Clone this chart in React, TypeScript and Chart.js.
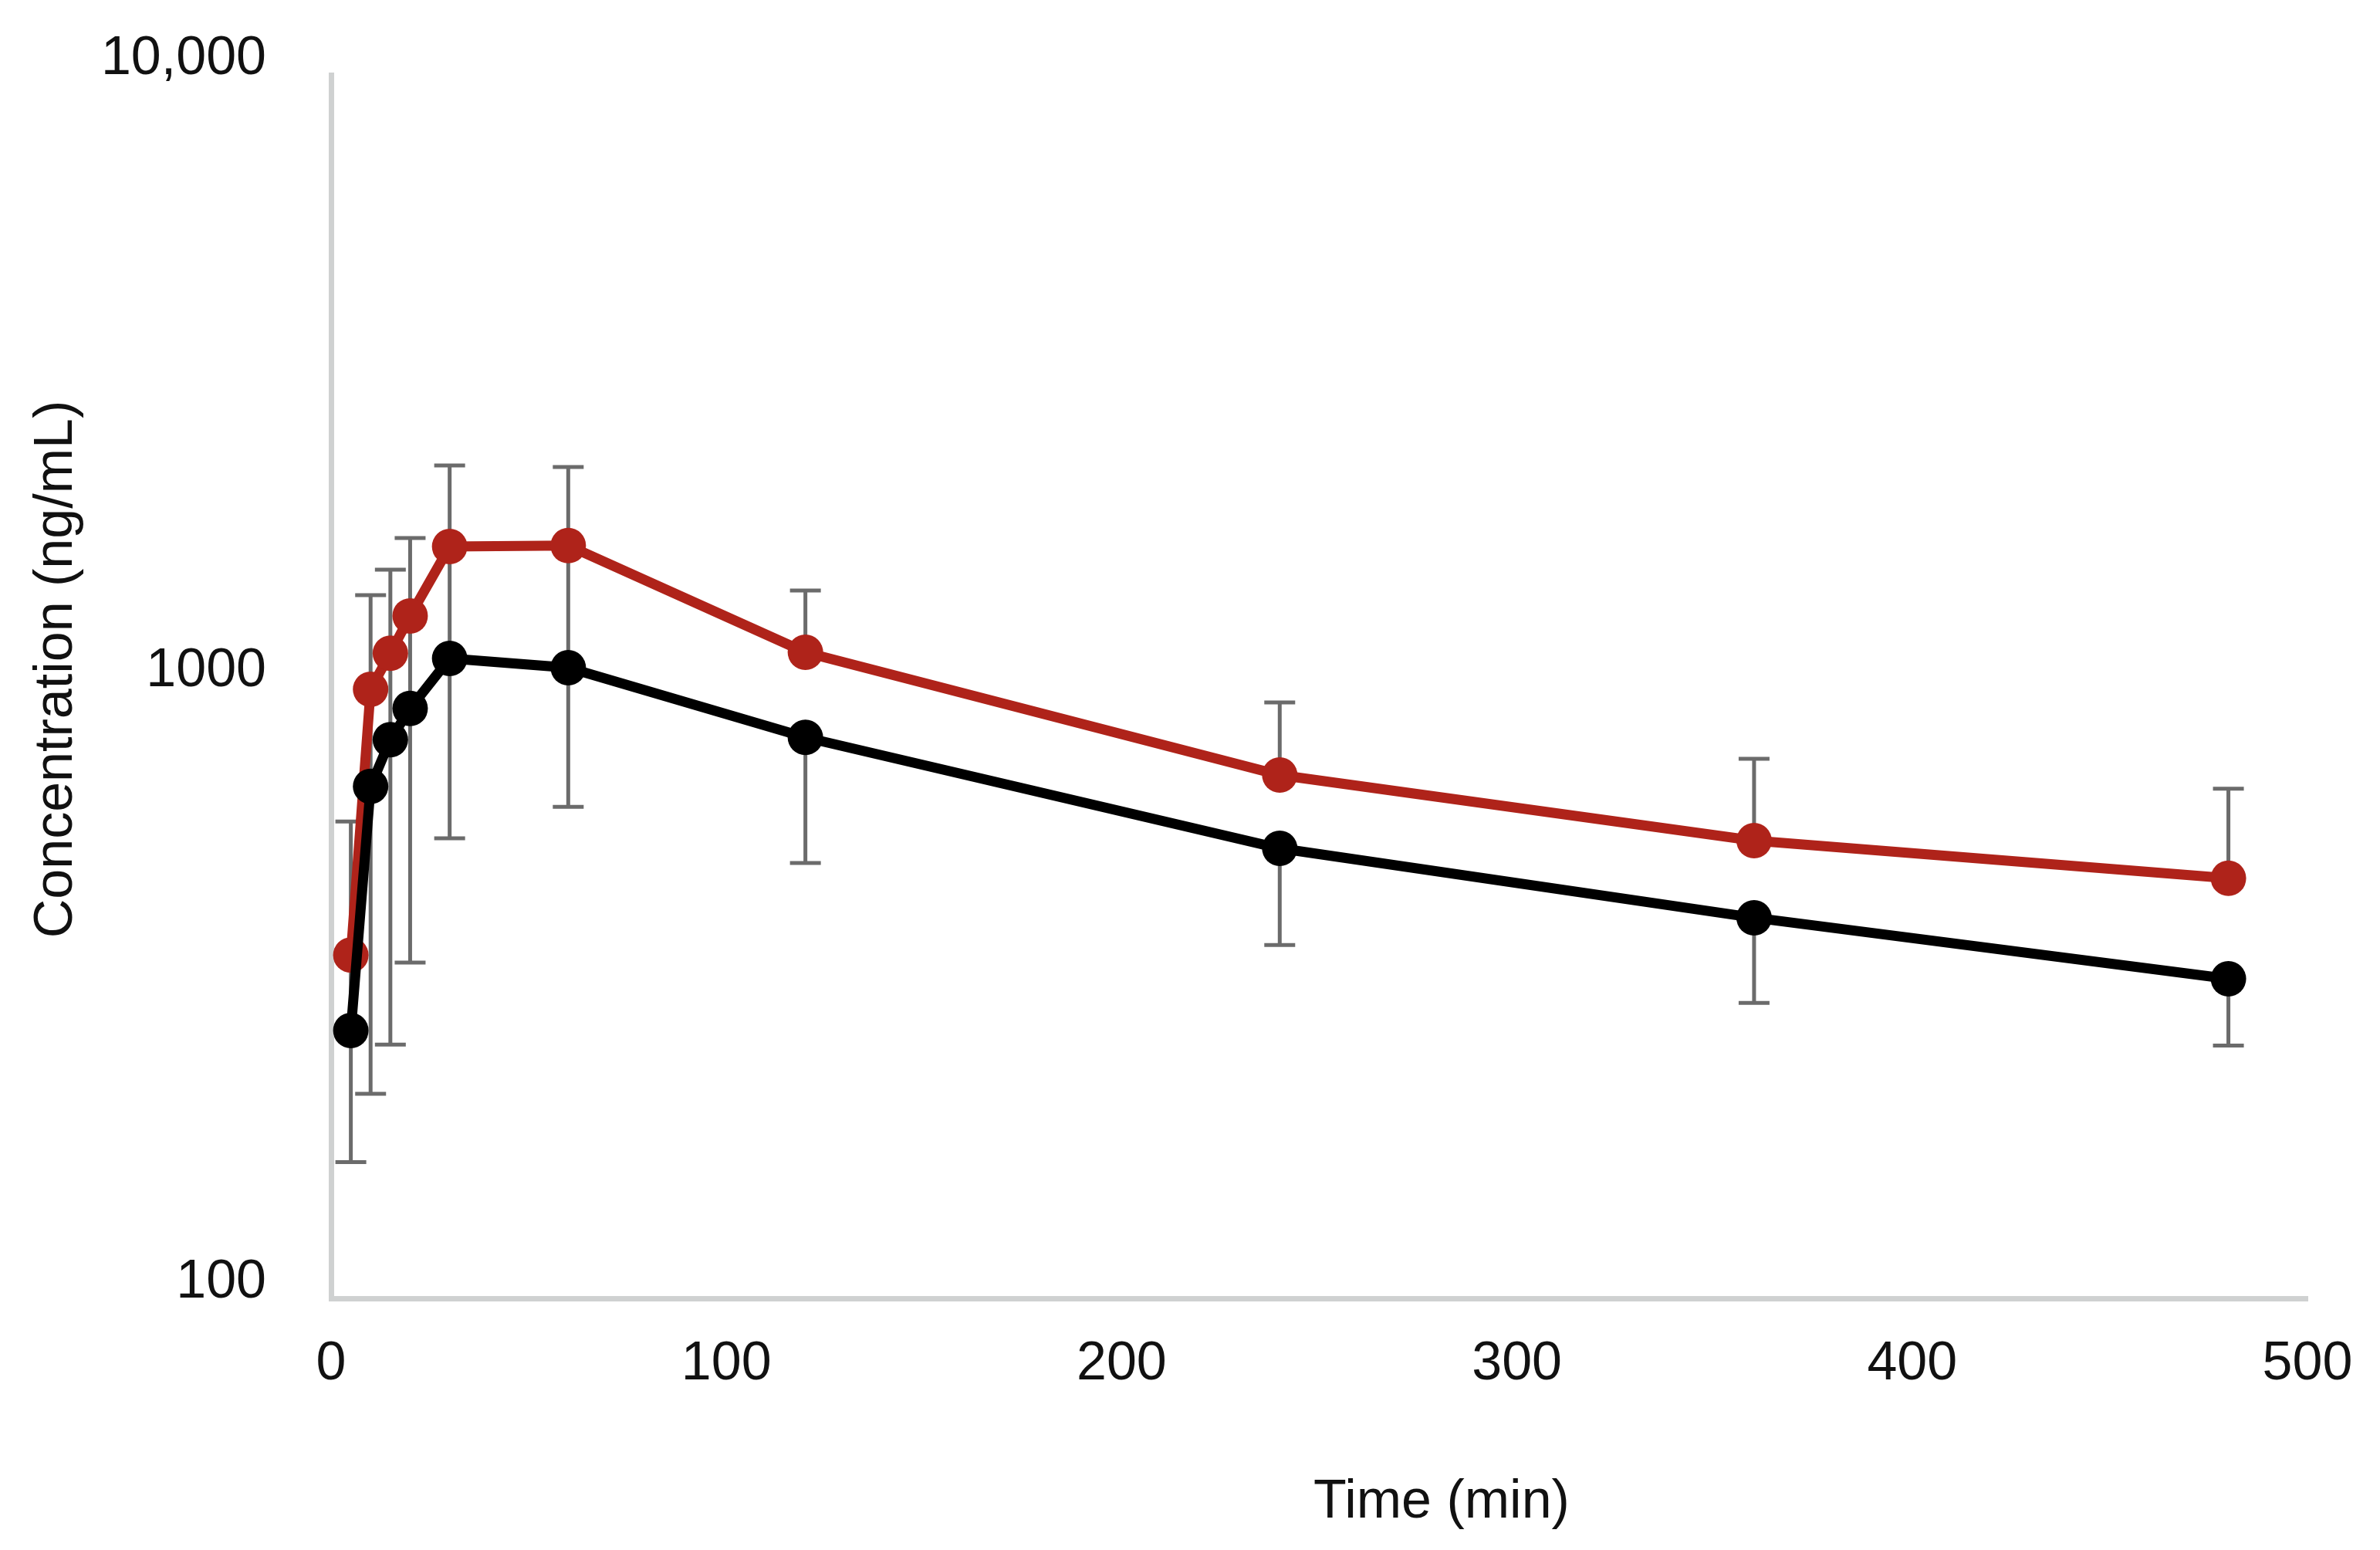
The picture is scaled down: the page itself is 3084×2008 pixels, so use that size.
import React, { useEffect, useRef } from "react";
import { Chart, registerables } from "chart.js";

Chart.register(...registerables);

// ---- data ----
const timePoints = [5, 10, 15, 20, 30, 60, 120, 240, 360, 480];

const redMean = [364, 990, 1134, 1305, 1694, 1700, 1138, 717, 560, 486];
const redUpper = [602, 1411, 1553, 1750, 2299, 2286, 1436, 942, 762, 681];
// lower bars of the red series (ending hidden behind the black markers)
const redLower = [274, 687, 819, 921, 1112, 1074, null, null, null, null];

const blackMean = [274, 687, 819, 921, 1112, 1074, 826, 544, 419, 333];
const blackLower = [167, 216, 260, 354, 565, 636, 515, 378, 304, 259];

const xTickValues = [0, 100, 200, 300, 400, 500];
const yTickValues = [100, 1000, 10000];
const yTickLabels = ["100", "1000", "10,000"];

const xTitle = "Time (min)";
const yTitle = "Concentration (ng/mL)";

// ---- styles ----
const FONT = '"Liberation Sans", Arial, Helvetica, sans-serif';
const RED = "#AF231A";
const BLACK = "#000000";
const ERR = "#6b6b6b";
const AXIS = "#cfd1d1";
const TEXT = "#111111";

const errorBarPlugin = {
  id: "errorBars",
  beforeDatasetsDraw(chart: any) {
    const { ctx, scales } = chart;
    const x = scales.x;
    const y = scales.y;
    const capHalf = 20;
    ctx.save();
    ctx.strokeStyle = ERR;
    ctx.lineWidth = 5;
    ctx.lineCap = "butt";
    const bar = (px: number, v0: number, v1: number) => {
      const p0 = y.getPixelForValue(v0);
      const p1 = y.getPixelForValue(v1);
      ctx.beginPath();
      ctx.moveTo(px, p0);
      ctx.lineTo(px, p1);
      ctx.moveTo(px - capHalf, p1);
      ctx.lineTo(px + capHalf, p1);
      ctx.stroke();
    };
    timePoints.forEach((t, i) => {
      const px = x.getPixelForValue(t);
      bar(px, redMean[i], redUpper[i]);
      const rl = redLower[i];
      if (rl !== null) bar(px, redMean[i], rl);
      bar(px, blackMean[i], blackLower[i]);
    });
    ctx.restore();
  },
};

const axisTitlePlugin = {
  id: "axisTitles",
  afterDraw(chart: any) {
    const { ctx } = chart;
    ctx.save();
    ctx.fillStyle = TEXT;
    ctx.font = `70px ${FONT}`;
    ctx.textAlign = "center";
    ctx.textBaseline = "middle";
    ctx.fillText(xTitle, 1868, 1947);
    ctx.translate(74, 867);
    ctx.rotate(-Math.PI / 2);
    ctx.fillText(yTitle, 0, 0);
    ctx.restore();
  },
};

export default function App() {
  const ref = useRef<HTMLCanvasElement>(null);

  useEffect(() => {
    document.body.style.margin = "0";
    document.body.style.overflow = "hidden";
    const canvas = ref.current;
    if (!canvas) return;

    const chart = new Chart(canvas, {
      type: "line",
      data: {
        datasets: [
          {
            label: "Black",
            data: timePoints.map((t, i) => ({ x: t, y: blackMean[i] })),
            borderColor: BLACK,
            backgroundColor: BLACK,
            borderWidth: 13,
            pointRadius: 23,
            pointBorderWidth: 0,
            pointBackgroundColor: BLACK,
            tension: 0,
          },
          {
            label: "Red",
            data: timePoints.map((t, i) => ({ x: t, y: redMean[i] })),
            borderColor: RED,
            backgroundColor: RED,
            borderWidth: 13,
            pointRadius: 23,
            pointBorderWidth: 0,
            pointBackgroundColor: RED,
            tension: 0,
          },
        ],
      },
      options: {
        animation: false,
        responsive: true,
        maintainAspectRatio: false,
        layout: { padding: { left: 0, top: 97, right: 94, bottom: 0 } },
        plugins: {
          legend: { display: false },
          tooltip: { enabled: false },
          title: { display: false },
        },
        scales: {
          x: {
            type: "linear",
            min: 0,
            max: 500,
            afterBuildTicks: (s: any) => {
              s.ticks = xTickValues.map((v) => ({ value: v }));
            },
            afterFit: (s: any) => {
              s.height = 326;
              s.paddingLeft = 0;
              s.paddingRight = 0;
            },
            grid: { display: false, drawTicks: false },
            border: { display: true, color: AXIS, width: 7 },
            ticks: {
              padding: 44,
              color: TEXT,
              font: { family: FONT, size: 70 },
              maxRotation: 0,
              autoSkip: false,
              callback: (v: any) => String(v),
            },
          },
          y: {
            type: "logarithmic",
            min: 100,
            max: 10000,
            afterBuildTicks: (s: any) => {
              s.ticks = yTickValues.map((v) => ({ value: v }));
            },
            afterFit: (s: any) => {
              s.width = 429;
              s.paddingTop = 0;
              s.paddingBottom = 0;
            },
            grid: { display: false, drawTicks: false },
            border: { display: true, color: AXIS, width: 7 },
            ticks: {
              padding: 84,
              labelOffset: -20,
              color: TEXT,
              font: { family: FONT, size: 70 },
              autoSkip: false,
              callback: (v: any) => {
                const i = yTickValues.indexOf(Number(v));
                return i >= 0 ? yTickLabels[i] : "";
              },
            },
          },
        },
      },
      plugins: [errorBarPlugin, axisTitlePlugin],
    } as any);

    return () => chart.destroy();
  }, []);

  return (
    <div style={{ width: 3084, height: 2008, position: "relative" }}>
      <canvas ref={ref} style={{ display: "block" }} />
    </div>
  );
}
